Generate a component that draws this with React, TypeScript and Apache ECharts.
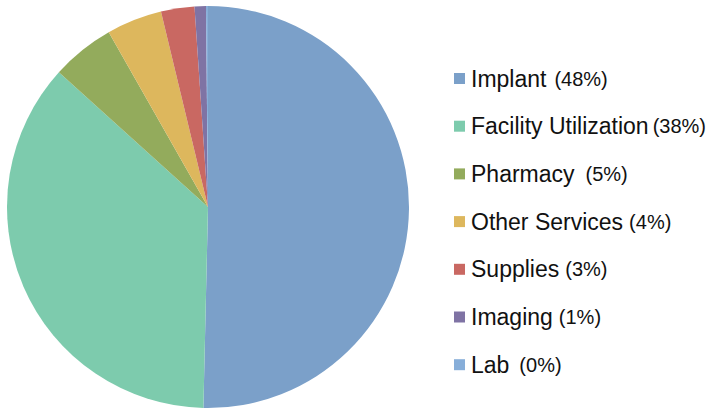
import React, { useEffect, useRef } from "react";
import * as echarts from "echarts";

const categories = ["Implant", "Facility Utilization", "Pharmacy", "Other Services", "Supplies", "Imaging", "Lab"];
const values = [50.36, 36.33, 5.08, 4.46, 2.69, 0.91, 0.16];
const pctLabels = ["(48%)", "(38%)", "(5%)", "(4%)", "(3%)", "(1%)", "(0%)"];
const gaps = [8, 4, 11, 6, 6, 6, 10];
const colors = ["#7BA0C9", "#7DCBAD", "#93AB5C", "#DDB75D", "#C96862", "#7F73A4", "#87AED9"];

export default function App() {
  const ref = useRef<HTMLDivElement>(null);
  useEffect(() => {
    if (!ref.current) return;
    const chart = echarts.init(ref.current, null, { renderer: "svg" });
    const data = categories.map((c, i) => ({ name: c, value: values[i], itemStyle: { color: colors[i] } }));
    chart.setOption({
      animation: false,
      backgroundColor: "#ffffff",
      legend: {
        orient: "vertical",
        left: 449,
        top: 62,
        icon: "rect",
        itemWidth: 11,
        itemHeight: 11,
        itemGap: 24.7,
        selectedMode: false,
        data: categories,
        formatter: (name: string) => {
          const i = categories.indexOf(name);
          return `{n|${name}}{g${i}|}{p|${pctLabels[i]}}`;
        },
        textStyle: {
          rich: {
            n: { fontFamily: "Liberation Sans", fontSize: 23, color: "#111111", lineHeight: 24, padding: [0, 0, 0, 1] },
            p: { fontFamily: "Liberation Sans", fontSize: 20, color: "#111111", lineHeight: 24 },
            ...Object.fromEntries(gaps.map((g, i) => [`g${i}`, { width: g }])),
          },
        },
      },
      series: [
        {
          type: "pie",
          center: [208, 207],
          radius: 201,
          startAngle: 90,
          clockwise: true,
          avoidLabelOverlap: false,
          label: { show: false },
          labelLine: { show: false },
          emphasis: { disabled: true },
          itemStyle: { borderWidth: 0 },
          data,
        },
      ],
    });
    return () => chart.dispose();
  }, []);
  return <div ref={ref} style={{ position: "fixed", left: 0, top: 0, width: 711, height: 415 }} />;
}
